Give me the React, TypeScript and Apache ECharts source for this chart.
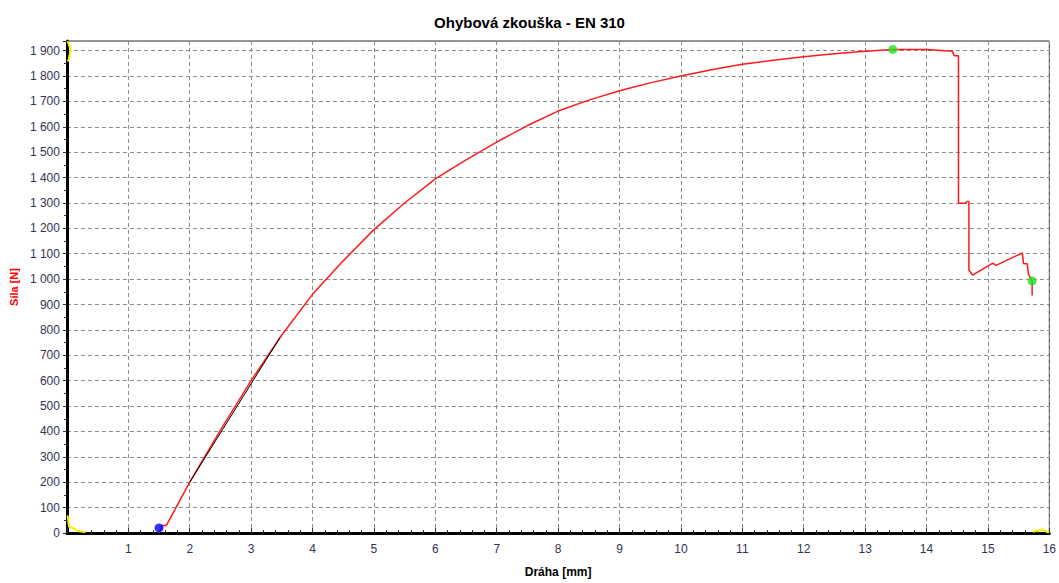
import React, { useEffect, useRef } from "react";
import * as echarts from "echarts";

// Bending test record: displacement [mm] vs force [N]
const travelMm = [
  1.5, 1.55, 1.62, 2.0, 2.5, 3.0, 3.5, 4.0, 4.5, 5.0, 5.5, 6.0, 6.5, 7.0, 7.5, 8.0,
  8.5, 9.0, 9.5, 10.0, 10.5, 11.0, 11.5, 12.0, 12.5, 13.0, 13.45, 14.0, 14.42, 14.45,
  14.52, 14.52, 14.63, 14.66, 14.69, 14.69, 14.75, 15.08, 15.13, 15.56, 15.58, 15.64,
  15.66, 15.72, 15.72,
];
const forceN = [
  0, 30, 30, 200, 405, 600, 780, 940, 1072, 1195, 1300, 1395, 1470, 1540, 1605, 1662,
  1705, 1742, 1773, 1800, 1825, 1846, 1862, 1876, 1888, 1898, 1905, 1905, 1898, 1880,
  1880, 1299, 1299, 1306, 1306, 1035, 1016, 1063, 1054, 1103, 1061, 1061,
  1020, 993, 936,
];

// Linear-region fit line
const fitTravel = [2.0, 3.47];
const fitForce = [200, 770];

// Evaluated points
const startPoint = [1.5, 20];
const maxPoint = [13.45, 1905];
const endPoint = [15.72, 993];

// Corner markers of the measuring range
const cornerTopLeft = [[0.01, 1938], [0.06, 1905], [0.03, 1865], [0.01, 1858]];
const cornerBottomLeft = [[0.01, 69], [0.035, 24], [0.12, 18], [0.17, 9], [0.3, 3]];
const cornerBottomRight = [[15.73, 5], [15.89, 14], [15.99, 1]];

const xMin = 0;
const xMax = 16;
const yMin = 0;
const yMax = 1938;

const zip = (xs: number[], ys: number[]) => xs.map((x, i) => [x, ys[i]]);

export default function App() {
  const ref = useRef<HTMLDivElement>(null);

  useEffect(() => {
    if (!ref.current) return;
    const chart = echarts.init(ref.current, null, { renderer: "svg" });
    const font = "Liberation Sans, Arial, sans-serif";
    const labelColor = "#333355";
    const gridLine = { show: true, lineStyle: { color: "#8c8c8c", type: [4, 3] as any, width: 1 } };

    const yellowSeries = (data: number[][]) => ({
      type: "line" as const,
      data,
      showSymbol: false,
      silent: true,
      lineStyle: { color: "#f0f000", width: 2 },
      z: 4,
    });

    chart.setOption({
      animation: false,
      backgroundColor: "#ffffff",
      title: {
        text: "Ohybová zkouška - EN 310",
        left: "center",
        top: 10,
        textStyle: { fontFamily: font, fontSize: 15, fontWeight: "bold", color: "#000" },
      },
      grid: {
        left: 65,
        right: 9,
        top: 41,
        bottom: 40,
        show: true,
        borderColor: "#333",
        borderWidth: 1,
        containLabel: false,
      },
      xAxis: {
        type: "value",
        min: xMin,
        max: xMax,
        interval: 1,
        name: "Dráha [mm]",
        nameLocation: "middle",
        nameGap: 33,
        nameTextStyle: { fontFamily: font, fontSize: 12, fontWeight: "bold", color: "#000" },
        axisLine: { show: true, onZero: false, lineStyle: { color: "#000", width: 3 } },
        axisTick: { show: true, inside: true, length: 5, lineStyle: { color: "#333" } },
        minorTick: { show: true, splitNumber: 5, length: 3, lineStyle: { color: "#333" } },
        axisLabel: {
          fontFamily: font,
          fontSize: 12,
          color: labelColor,
          margin: 10,
          formatter: (v: number) => (v === 0 ? "" : String(v)),
        },
        splitLine: gridLine,
      },
      yAxis: {
        type: "value",
        min: yMin,
        max: yMax,
        interval: 100,
        name: "Síla [N]",
        nameLocation: "middle",
        nameGap: 47,
        nameTextStyle: { fontFamily: font, fontSize: 11, fontWeight: "bold", color: "#ff0000" },
        axisLine: { show: true, onZero: false, lineStyle: { color: "#000", width: 3 } },
        axisTick: { show: true, length: 4, lineStyle: { color: "#333" } },
        minorTick: { show: true, splitNumber: 2, length: 3, lineStyle: { color: "#333" } },
        axisLabel: {
          fontFamily: font,
          fontSize: 12,
          color: labelColor,
          margin: 7,
          showMaxLabel: false,
          formatter: (v: number) =>
            v % 100 !== 0 ? "" : v >= 1000 ? `${Math.floor(v / 1000)} ${String(v % 1000).padStart(3, "0")}` : String(v),
        },
        splitLine: gridLine,
      },
      series: [
        yellowSeries(cornerTopLeft),
        yellowSeries(cornerBottomLeft),
        yellowSeries(cornerBottomRight),
        {
          type: "line",
          data: zip(travelMm, forceN),
          showSymbol: false,
          lineStyle: { color: "#ff1a1a", width: 1.5 },
          z: 3,
        },
        {
          type: "line",
          data: zip(fitTravel, fitForce),
          showSymbol: false,
          lineStyle: { color: "#000", width: 1 },
          z: 5,
        },
        {
          type: "scatter",
          data: [startPoint],
          symbolSize: 9,
          itemStyle: { color: "#0000ff" },
          z: 6,
        },
        {
          type: "scatter",
          data: [maxPoint, endPoint],
          symbolSize: 9,
          itemStyle: { color: "#22e022" },
          z: 6,
        },
      ],
    });

    return () => chart.dispose();
  }, []);

  return (
    <div
      ref={ref}
      style={{ position: "fixed", left: 0, top: 0, width: 1059, height: 583 }}
    />
  );
}
